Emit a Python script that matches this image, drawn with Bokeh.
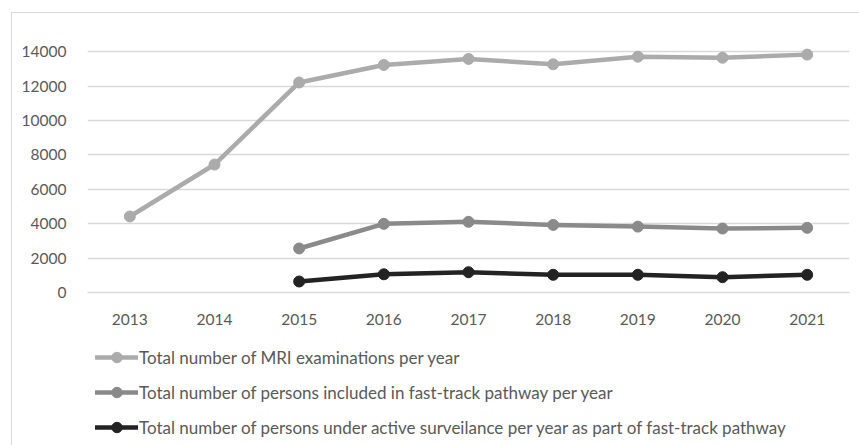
from bokeh.plotting import figure
from bokeh.layouts import column
from bokeh.models import FactorRange, Range1d, Legend, LegendItem, SingleIntervalTicker
from bokeh.embed import file_html
from bokeh.resources import INLINE

# Yearly counts
years = ["2013", "2014", "2015", "2016", "2017", "2018", "2019", "2020", "2021"]
mri_exams = [4420, 7440, 12210, 13230, 13580, 13270, 13710, 13650, 13830]
fast_track_years = ["2015", "2016", "2017", "2018", "2019", "2020", "2021"]
fast_track_persons = [2560, 3990, 4110, 3930, 3830, 3720, 3760]
surveillance_persons = [640, 1060, 1180, 1030, 1030, 890, 1030]

series_labels = [
    "Total number of MRI examinations per year",
    "Total number of persons included in fast-track pathway per year",
    "Total number of persons under active surveilance per year as part of fast-track pathway",
]
series_colors = ["#ababab", "#8a8a8a", "#232323"]

FONT = "Lato"
TEXT_COLOR = "#595959"
GRID_COLOR = "#d9d9d9"
LINE_W = 4.5
MARKER = 11

series = [
    (years, mri_exams),
    (fast_track_years, fast_track_persons),
    (fast_track_years, surveillance_persons),
]

# Main chart
p = figure(
    width=847, height=322,
    x_range=FactorRange(*years, range_padding=0),
    y_range=Range1d(0, 15000),
    output_backend="svg", toolbar_location=None,
    min_border_left=75, min_border_right=10,
    min_border_top=21, min_border_bottom=43,
)
p.outline_line_color = None
p.border_fill_color = "white"

p.yaxis.ticker = SingleIntervalTicker(interval=2000)
for ax in (p.xaxis[0], p.yaxis[0]):
    ax.major_tick_line_color = None
    ax.minor_tick_line_color = None
    ax.major_label_text_font = FONT
    ax.major_label_text_font_size = "15.5px"
    ax.major_label_text_color = TEXT_COLOR
    ax.major_label_standoff = 15
p.yaxis.axis_line_color = None
p.xaxis.axis_line_color = GRID_COLOR
p.xaxis.axis_line_width = 1.5
p.xgrid.grid_line_color = None
p.ygrid.grid_line_color = GRID_COLOR
p.ygrid.grid_line_width = 1.5

for (xs, ys), color in zip(series, series_colors):
    p.line(xs, ys, line_color=color, line_width=LINE_W, line_join="round")
    p.scatter(xs, ys, size=MARKER, fill_color=color, line_color=color)

# Legend panel underneath the chart; its series sit outside its own y range,
# so only the legend entries show.
leg_fig = figure(
    width=847, height=111,
    x_range=FactorRange(*years, range_padding=0), y_range=Range1d(-2, -1),
    output_backend="svg", toolbar_location=None,
    min_border_left=75, min_border_right=10, min_border_top=0, min_border_bottom=0,
)
leg_fig.axis.visible = False
leg_fig.grid.visible = False
leg_fig.outline_line_color = None
leg_fig.border_fill_color = "white"

items = []
for lab, (xs, ys), color in zip(series_labels, series, series_colors):
    ln = leg_fig.line(xs, ys, line_color=color, line_width=LINE_W, line_cap="round")
    sc = leg_fig.scatter(xs, ys, size=MARKER, fill_color=color, line_color=color)
    items.append(LegendItem(label=lab, renderers=[ln, sc]))

legend = Legend(
    items=items,
    location=(8, 6),
    orientation="vertical",
    glyph_width=43, glyph_height=26, label_height=20,
    label_standoff=1, spacing=9, padding=0, margin=0,
    label_text_font=FONT, label_text_font_size="17px", label_text_color=TEXT_COLOR,
    border_line_color=None, background_fill_alpha=0,
)
leg_fig.add_layout(legend, "center")

layout = column(
    p, leg_fig, spacing=0,
    margin=(12, 0, 0, 11),
    styles={"border-top": f"1px solid {GRID_COLOR}", "border-left": f"1px solid {GRID_COLOR}"},
)

open("out.html", "w").write(file_html(layout, INLINE))
